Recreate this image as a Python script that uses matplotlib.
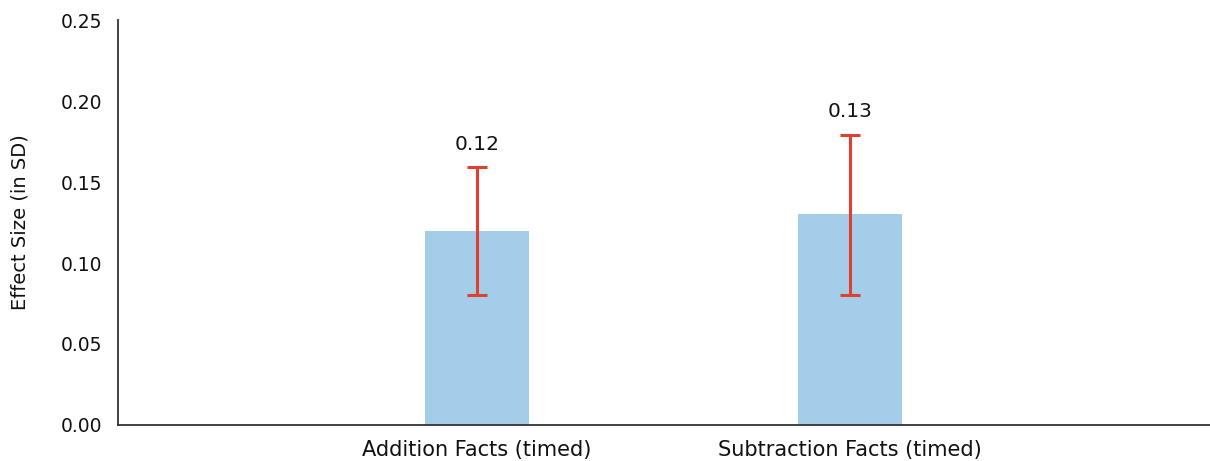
import matplotlib
matplotlib.use("Agg")
import matplotlib.pyplot as plt

categories = ["Addition Facts (timed)", "Subtraction Facts (timed)"]
effect_sizes = [0.12, 0.13]
ci_low = [0.08, 0.08]
ci_high = [0.159, 0.179]
value_labels = ["0.12", "0.13"]
y_ticks = [0.00, 0.05, 0.10, 0.15, 0.20, 0.25]

plt.rcParams["font.family"] = ["DejaVu Sans"]

fig = plt.figure(figsize=(12.10, 4.61), dpi=100)
ax = fig.add_axes([0.0975, 0.0781, 0.9025, 0.8785])

x = list(range(len(categories)))
ax.bar(x, effect_sizes, width=0.279, color="#A3CDE8", zorder=1)

yerr = [[e - lo for e, lo in zip(effect_sizes, ci_low)],
        [hi - e for e, hi in zip(effect_sizes, ci_high)]]
ax.errorbar(x, effect_sizes, yerr=yerr, fmt="none", ecolor="#E0402F",
            elinewidth=2.2, capsize=7, capthick=2.2, zorder=2)

for xi, hi, lab in zip(x, ci_high, value_labels):
    ax.annotate(lab, (xi, hi), xytext=(0, 10), textcoords="offset points",
                ha="center", va="bottom", fontsize=14.5, color="#111111")

ax.set_xlim(-0.963, 1.965)
ax.set_ylim(0, 0.25)
ax.set_yticks(y_ticks)
ax.set_yticklabels([f"{v:.2f}" for v in y_ticks])
ax.set_xticks(x)
ax.set_xticklabels(categories)
ax.tick_params(axis="both", length=0, colors="#111111")
ax.tick_params(axis="y", pad=11, labelsize=13.5)
ax.tick_params(axis="x", pad=11, labelsize=15)
ax.set_ylabel("Effect Size (in SD)", fontsize=14, color="#111111")
ax.yaxis.set_label_coords(-0.081, 0.5)

for side in ("top", "right"):
    ax.spines[side].set_visible(False)
for side in ("left", "bottom"):
    ax.spines[side].set_color("#333333")
    ax.spines[side].set_linewidth(1.3)

fig.savefig("out.png", dpi=100)
